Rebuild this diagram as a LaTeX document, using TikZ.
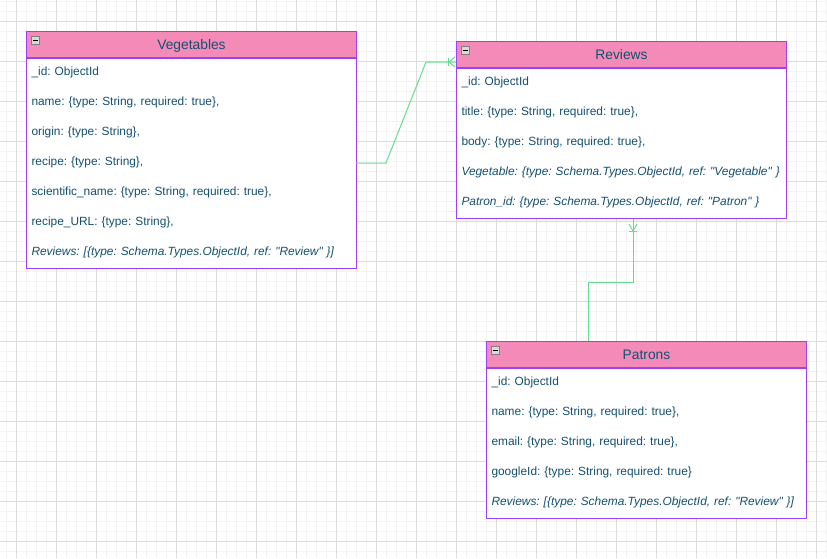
\documentclass[tikz,border=0pt]{standalone}
\usepackage{fontspec}
\newfontfamily\erfont{Liberation Sans}
\usepackage{tikz}
\usetikzlibrary{calc}
\usetikzlibrary{positioning}

\definecolor{hdpink}{HTML}{F48AB8}
\definecolor{edgepurple}{HTML}{A040F5}
\definecolor{inkblue}{HTML}{155070}
\definecolor{linkgreen}{HTML}{66DD8E}
\definecolor{gridmajor}{HTML}{DCDCDC}
\definecolor{gridminor}{HTML}{F3F3F3}

\tikzset{
  header/.style={draw=edgepurple, fill=hdpink, text=inkblue, font=\erfont\fontsize{13.8}{16}\selectfont,
    minimum height=26pt, inner sep=0pt, text height=10pt, text depth=0pt, anchor=north west},
  panel/.style={draw=edgepurple, fill=white, inner sep=0pt, anchor=north west},
  field/.style={text=inkblue, font=\erfont\fontsize{11.9}{14}\selectfont, inner xsep=5.5pt, inner ysep=0pt,
    outer sep=0pt, minimum height=30pt, text height=8.5pt, text depth=4.5pt, align=left, text width=#1},
  field/.default=319pt,
  ifield/.style={field=#1, font=\erfont\fontsize{11.9}{14}\selectfont\itshape},
  ifield/.default=319pt,
  icon/.style={draw=gray, fill=gray!30, minimum size=8pt, inner sep=0pt, anchor=north west},
  link/.style={draw=linkgreen},
}
\frenchspacing

\begin{document}
\begin{tikzpicture}[x=1pt, y=-1pt, line width=1pt, node distance=0pt]
		\useasboundingbox (0,0) rectangle (827,558);
		\fill[white] (0,0) rectangle (827,558);

		% grid
		\foreach \gx in {6,16,...,826} \draw[gridminor] (\gx,0) -- (\gx,558);
		\foreach \gy in {1,11,...,551} \draw[gridminor] (0,\gy) -- (827,\gy);
		\foreach \gx in {16,56,...,816} \draw[gridmajor] (\gx,0) -- (\gx,558);
		\foreach \gy in {21,61,...,541} \draw[gridmajor] (0,\gy) -- (827,\gy);

		% Vegetables
		\node[header, minimum width=330pt] (veg) at (26,31) {Vegetables};
		\node[panel, minimum width=330pt, minimum height=210pt] (vegbox) at (veg.south west) {};
		\node[icon] (vegicon) at ([shift={(5pt,-5pt)}]veg.north west) {};
		\draw ([xshift=-2.5pt]vegicon.center) -- ([xshift=2.5pt]vegicon.center);

		\node[field, anchor=north west] (veg1) at (vegbox.north west) {\_id: ObjectId};
		\node[field, below=of veg1] (veg2) {name: \{type: String, required: true\},};
		\node[field, below=of veg2] (veg3) {origin: \{type: String\},};
		\node[field, below=of veg3] (veg4) {recipe: \{type: String\},};
		\node[field, below=of veg4] (veg5) {scientific\_name: \{type: String, required: true\},};
		\node[field, below=of veg5] (veg6) {recipe\_URL: \{type: String\},};
		\node[ifield, below=of veg6] (veg7) {Reviews: [\{type: Schema.Types.ObjectId, ref: "Review" \}]};

		% Reviews
		\node[header, minimum width=330pt] (rev) at (456,41) {Reviews};
		\node[panel, minimum width=330pt, minimum height=150pt] (revbox) at (rev.south west) {};
		\node[icon] (revicon) at ([shift={(5pt,-5pt)}]rev.north west) {};
		\draw ([xshift=-2.5pt]revicon.center) -- ([xshift=2.5pt]revicon.center);

		\node[field, anchor=north west] (rev1) at (revbox.north west) {\_id: ObjectId};
		\node[field, below=of rev1] (rev2) {title: \{type: String, required: true\},};
		\node[field, below=of rev2] (rev3) {body: \{type: String, required: true\},};
		\node[ifield, below=of rev3] (rev4) {Vegetable: \{type: Schema.Types.ObjectId, ref: "Vegetable" \}};
		\node[ifield, below=of rev4] (rev5) {Patron\_id: \{type: Schema.Types.ObjectId, ref: "Patron" \}};

		% Patrons
		\node[header, minimum width=320pt] (pat) at (486,341) {Patrons};
		\node[panel, minimum width=320pt, minimum height=150pt] (patbox) at (pat.south west) {};
		\node[icon] (paticon) at ([shift={(5pt,-5pt)}]pat.north west) {};
		\draw ([xshift=-2.5pt]paticon.center) -- ([xshift=2.5pt]paticon.center);

		\node[field=309pt, anchor=north west] (pat1) at (patbox.north west) {\_id: ObjectId};
		\node[field=309pt, below=of pat1] (pat2) {name: \{type: String, required: true\},};
		\node[field=309pt, below=of pat2] (pat3) {email: \{type: String, required: true\},};
		\node[field=309pt, below=of pat3] (pat4) {googleId: \{type: String, required: true\}};
		\node[ifield=309pt, below=of pat4] (pat5) {Reviews: [\{type: Schema.Types.ObjectId, ref: "Review" \}]};

		% links
		\coordinate (revin) at ($(rev.south west)+(0,-6)$);
		\coordinate (revout) at ($(revbox.south west)+(177,0)$);
		\coordinate (patin) at ($(pat.north west)+(102,0)$);

		\draw[link] (veg4.east) -- ++(30,0) -- ($(revin)+(-30,0)$) -- (revin);
		\draw[link] ($(revin)+(-7,0)$) -- ($(revin)+(-1,-5)$);
		\draw[link] ($(revin)+(-7,0)$) -- ($(revin)+(-1,5)$);
		\draw[link] ($(revin)+(-8,-4)$) -- ($(revin)+(-8,4)$);

		\draw[link] (patin) -- ++(0,-59) -| (revout);
		\draw[link] ($(revout)+(0,12)$) -- ($(revout)+(-4,5)$);
		\draw[link] ($(revout)+(0,12)$) -- ($(revout)+(4,5)$);
		\draw[link] ($(revout)+(-4,12)$) -- ($(revout)+(4,12)$);
    \end{tikzpicture}
\end{document}
